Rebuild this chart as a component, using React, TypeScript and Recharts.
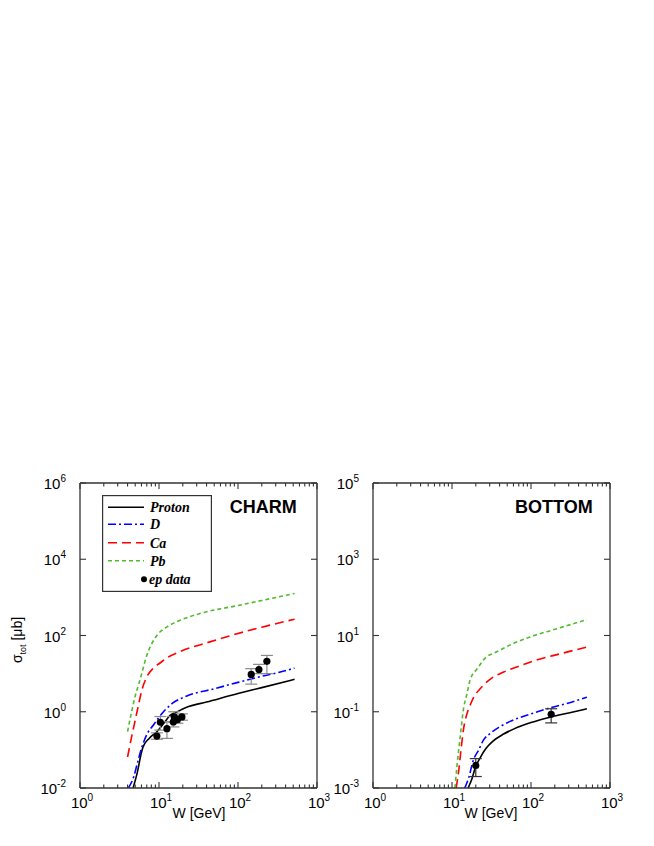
import React from 'react';
import { ComposedChart, Line, Scatter, XAxis, YAxis, ErrorBar, Legend } from 'recharts';

// ---------------- CHARM panel (W in GeV, sigma in micro-barn) ----------------
const charmProtonW = [4.7, 5.3, 6.05, 6.3, 7.5, 9.4, 11.5, 13.8, 17, 22, 40, 100, 200, 520];
const charmProtonS = [0.01, 0.025, 0.092, 0.12, 0.2, 0.3, 0.5, 0.8, 1.0, 1.3, 1.8, 3.0, 4.3, 7.1];

const charmDW = [4.1, 4.8, 5.4, 6.05, 7, 8.5, 11.4, 15, 22.5, 50, 100, 200, 343, 520];
const charmDS = [0.01, 0.02, 0.05, 0.115, 0.25, 0.45, 1.0, 1.7, 2.6, 4.0, 5.9, 8.5, 11, 14];

const charmCaW = [4.0, 4.5, 5.0, 5.5, 6.05, 7, 8.5, 10.3, 13, 18.5, 44, 88, 200, 520];
const charmCaS = [0.065, 0.22, 0.6, 1.5, 3.6, 8.2, 14, 19, 27, 38, 68, 105, 165, 268];

const charmPbW = [4.0, 4.5, 5.0, 5.5, 6.0, 7.0, 8.0, 9.4, 12.6, 18.5, 33, 100, 200, 520];
const charmPbS = [0.3, 1.0, 2.6, 5, 9.5, 30, 58, 100, 168, 250, 377, 613, 830, 1265];

const charmDataW = [9.4, 10.4, 12.6, 15.2, 15.6, 17.1, 19.5, 147, 184, 232];
const charmDataS = [0.23, 0.53, 0.36, 0.54, 0.73, 0.62, 0.73, 9.5, 12.8, 21];
const charmDataLo = [0.19, 0.33, 0.2, 0.4, 0.52, 0.5, 0.6, 5.3, 10, 10];
const charmDataHi = [0.28, 0.75, 0.55, 0.75, 1.0, 0.8, 0.88, 13.5, 17.5, 30];

// ---------------- BOTTOM panel ----------------
const bottomProtonW = [16.0, 17.8, 20, 22.7, 27, 33, 45, 60, 100, 180, 300, 510];
const bottomProtonS = [0.001, 0.0017, 0.0037, 0.0062, 0.011, 0.017, 0.026, 0.035, 0.052, 0.073, 0.093, 0.12];

const bottomDW = [14.5, 16.2, 18.7, 21.7, 25, 30.4, 40, 54.5, 100, 174, 300, 510];
const bottomDS = [0.001, 0.0018, 0.0055, 0.0098, 0.018, 0.027, 0.04, 0.056, 0.088, 0.126, 0.17, 0.24];

const bottomCaW = [11.3, 12.2, 13, 14, 15.5, 17, 19, 22.7, 30, 45, 66, 120, 233, 510];
const bottomCaS = [0.001, 0.003, 0.01, 0.035, 0.09, 0.15, 0.25, 0.4, 0.7, 1.1, 1.5, 2.3, 3.3, 5.0];

const bottomPbW = [10.9, 11.6, 12.7, 14, 15.5, 17, 20.6, 27.6, 33.5, 60, 97.5, 200, 510];
const bottomPbS = [0.001, 0.004, 0.022, 0.12, 0.3, 0.7, 1.3, 2.8, 3.4, 6.2, 9.2, 14.5, 26];

const bottomDataW = [20, 180];
const bottomDataS = [0.0039, 0.086];
const bottomDataLo = [0.002, 0.051];
const bottomDataHi = [0.0059, 0.12];

// ---------------- axes ----------------
const xDomain = [1, 1000];
const xMajor = [1, 10, 100, 1000];
const charmYTicks = [1e-2, 1, 1e2, 1e4, 1e6];
const bottomYTicks = [1e-3, 1e-1, 1e1, 1e3, 1e5];
const legendNames = ['Proton', 'D', 'Ca', 'Pb', 'ep data'];

const xAllTicks: number[] = [];
xMajor.slice(0, 3).forEach((d) => {
  for (let k = 1; k < 10; k++) xAllTicks.push(d * k);
});
xAllTicks.push(1000);

const FONT = "'Liberation Sans', Arial, Helvetica, sans-serif";
const SERIF = "'Liberation Serif', 'Times New Roman', serif";
const FRAME = '#333';

const STYLES = [
  { color: '#000000', dash: undefined as string | undefined },
  { color: '#0000ff', dash: '8 3 2 3' },
  { color: '#ff0000', dash: '9 5' },
  { color: '#4fbb2f', dash: '4 3' },
];

const toLine = (w: number[], s: number[]) => w.map((v, i) => ({ w: v, s: s[i] }));
const toPoints = (w: number[], s: number[], lo: number[], hi: number[]) =>
  w.map((v, i) => ({ w: v, s: s[i], err: [s[i] - lo[i], hi[i] - s[i]] }));

const expOf = (v: number) => Math.round(Math.log10(v));
const isMajor = (v: number) => Math.abs(Math.log10(v) - expOf(v)) < 1e-6;

const Pow = ({ x, y, v, anchor }: any) => (
  <text x={x} y={y} textAnchor={anchor} fontFamily={FONT} fontSize={15} fill="#000">
    10
    <tspan dy={-7} fontSize={10}>
      {String(expOf(v))}
    </tspan>
  </text>
);

const BottomTick = (props: any) => {
  const { x, y, payload } = props;
  const v = payload.value;
  const major = isMajor(v);
  return (
    <g>
      <line x1={x} y1={y} x2={x} y2={y - (major ? 6 : 3.5)} stroke={FRAME} strokeWidth={1.1} />
      {major && <Pow x={x + 2} y={y + 20} v={v} anchor="middle" />}
    </g>
  );
};

const TopTick = (props: any) => {
  const { x, y, payload } = props;
  const major = isMajor(payload.value);
  return <line x1={x} y1={y} x2={x} y2={y + (major ? 6 : 3.5)} stroke={FRAME} strokeWidth={1.1} />;
};

const LeftTick = (props: any) => {
  const { x, y, payload } = props;
  return (
    <g>
      <line x1={x} y1={y} x2={x + 6} y2={y} stroke={FRAME} strokeWidth={1.1} />
      <Pow x={x - 14} y={y + 6} v={payload.value} anchor="end" />
    </g>
  );
};

const RightTick = (props: any) => {
  const { x, y } = props;
  return <line x1={x} y1={y} x2={x - 6} y2={y} stroke={FRAME} strokeWidth={1.1} />;
};

const LegendBox = () => {
  const rows = [12.3, 29.3, 47.7, 65.7, 84.3];
  return (
    <svg width={110} height={97} style={{ display: 'block' }}>
      <rect x={0.6} y={0.6} width={108.8} height={95.8} fill="none" stroke={FRAME} strokeWidth={1.2} />
      {STYLES.map((st, i) => (
        <g key={i}>
          <line x1={6} x2={42} y1={rows[i]} y2={rows[i]} stroke={st.color} strokeWidth={1.6} strokeDasharray={st.dash} />
          <text x={48} y={rows[i] + 5} fontFamily={SERIF} fontStyle="italic" fontWeight="bold" fontSize={14} fill="#000">
            {legendNames[i]}
          </text>
        </g>
      ))}
      <circle cx={42} cy={rows[4]} r={3} fill="#000" />
      <text x={47} y={rows[4] + 5} fontFamily={SERIF} fontStyle="italic" fontWeight="bold" fontSize={14} fill="#000">
        {legendNames[4]}
      </text>
    </svg>
  );
};

const Dot = (props: any) => <circle cx={props.cx} cy={props.cy} r={3.6} fill="#000" />;

type PanelProps = {
  width: number;
  rightMargin: number;
  yAxisWidth: number;
  yDomain: number[];
  yTicks: number[];
  series: { w: number; s: number }[][];
  points: any[];
  errColor: string;
  showLegend: boolean;
  xTitleX: number;
};

const Panel = ({ width, rightMargin, yAxisWidth, yDomain, yTicks, series, points, errColor, showLegend, xTitleX }: PanelProps) => (
  <ComposedChart width={width} height={380} margin={{ top: 32, right: rightMargin, bottom: 0, left: 0 }}>
    <XAxis
      xAxisId="b"
      dataKey="w"
      type="number"
      scale="log"
      domain={xDomain}
      allowDataOverflow
      ticks={xAllTicks}
      interval={0}
      tickSize={0}
      tickMargin={0}
      tickLine={false}
      tick={BottomTick}
      height={42}
      axisLine={{ stroke: FRAME, strokeWidth: 1.3 }}
      label={{
        content: () => (
          <text x={xTitleX} y={368} textAnchor="middle" fontFamily={FONT} fontSize={14} fill="#000">
            W [GeV]
          </text>
        ),
      }}
    />
    <XAxis
      xAxisId="t"
      orientation="top"
      dataKey="w"
      type="number"
      scale="log"
      domain={xDomain}
      allowDataOverflow
      ticks={xAllTicks}
      interval={0}
      tickSize={0}
      tickMargin={0}
      tickLine={false}
      tick={TopTick}
      height={1}
      axisLine={{ stroke: FRAME, strokeWidth: 1.3 }}
    />
    <YAxis
      yAxisId="l"
      dataKey="s"
      type="number"
      scale="log"
      domain={yDomain}
      allowDataOverflow
      ticks={yTicks}
      interval={0}
      tickSize={0}
      tickMargin={0}
      tickLine={false}
      tick={LeftTick}
      width={yAxisWidth}
      axisLine={{ stroke: FRAME, strokeWidth: 1.3 }}
      label={
        showLegend
          ? {
              content: () => (
                <text
                  x={14}
                  y={190}
                  transform="rotate(-90 14 190)"
                  textAnchor="middle"
                  fontFamily={FONT}
                  fontSize={14}
                  fill="#000"
                >
                  σ
                  <tspan dy={4} fontSize={9}>
                    tot
                  </tspan>
                  <tspan dy={-4}> [μb]</tspan>
                </text>
              ),
            }
          : undefined
      }
    />
    <YAxis
      yAxisId="r"
      orientation="right"
      dataKey="s"
      type="number"
      scale="log"
      domain={yDomain}
      allowDataOverflow
      ticks={yTicks}
      interval={0}
      tickSize={0}
      tickMargin={0}
      tickLine={false}
      tick={RightTick}
      width={1}
      axisLine={{ stroke: FRAME, strokeWidth: 1.3 }}
    />
    {series.map((d, i) => (
      <Line
        key={i}
        xAxisId="b"
        yAxisId="l"
        data={d}
        dataKey="s"
        type="monotone"
        stroke={STYLES[i].color}
        strokeWidth={1.6}
        strokeDasharray={STYLES[i].dash}
        dot={false}
        activeDot={false}
        isAnimationActive={false}
      />
    ))}
    <Scatter xAxisId="b" yAxisId="l" data={points} dataKey="s" shape={Dot} isAnimationActive={false}>
      <ErrorBar dataKey="err" direction="y" width={6} stroke={errColor} strokeWidth={1.2} />
    </Scatter>
    {showLegend && (
      <Legend
        layout="horizontal"
        verticalAlign="middle"
        align="center"
        content={() => <LegendBox />}
        wrapperStyle={{ left: 94, top: 45, width: 110, height: 97 }}
      />
    )}
  </ComposedChart>
);

export default function App() {
  const charmSeries = [
    toLine(charmProtonW, charmProtonS),
    toLine(charmDW, charmDS),
    toLine(charmCaW, charmCaS),
    toLine(charmPbW, charmPbS),
  ];
  const bottomSeries = [
    toLine(bottomProtonW, bottomProtonS),
    toLine(bottomDW, bottomDS),
    toLine(bottomCaW, bottomCaS),
    toLine(bottomPbW, bottomPbS),
  ];
  return (
    <div style={{ position: 'relative', width: 638, height: 830 }}>
      <div style={{ position: 'absolute', left: 0, top: 442 }}>
        <Panel
          width={330}
          rightMargin={20}
          yAxisWidth={72}
          yDomain={[1e-2, 1e6]}
          yTicks={charmYTicks}
          series={charmSeries}
          points={toPoints(charmDataW, charmDataS, charmDataLo, charmDataHi)}
          errColor="#8a8a8a"
          showLegend
          xTitleX={191}
        />
      </div>
      <div style={{ position: 'absolute', left: 322, top: 442 }}>
        <Panel
          width={302}
          rightMargin={21}
          yAxisWidth={43}
          yDomain={[1e-3, 1e5]}
          yTicks={bottomYTicks}
          series={bottomSeries}
          points={toPoints(bottomDataW, bottomDataS, bottomDataLo, bottomDataHi)}
          errColor="#333"
          showLegend={false}
          xTitleX={161}
        />
      </div>
      <svg width={638} height={830} style={{ position: 'absolute', left: 0, top: 0, pointerEvents: 'none' }}>
        <text x={288.7} y={504.7} textAnchor="end" fontFamily={FONT} fontWeight="bold" fontSize={18} fill="#000">
          CHARM
        </text>
        <text x={584.7} y={504.7} textAnchor="end" fontFamily={FONT} fontWeight="bold" fontSize={18} fill="#000">
          BOTTOM
        </text>
      </svg>
    </div>
  );
}
